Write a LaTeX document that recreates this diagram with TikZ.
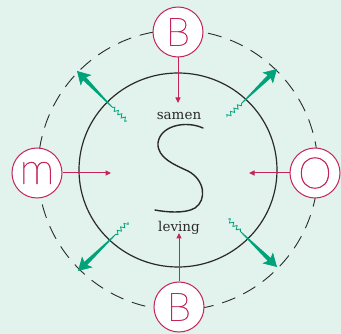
\documentclass[tikz,border=0pt]{standalone}
\usepackage{fontspec}
\newfontfamily\wordfont{DejaVu Serif}
\newfontfamily\letterfont{Lato Thin}[FakeBold=1.2]
\usetikzlibrary{arrows.meta,decorations.pathmorphing,calc}
\definecolor{bg}{HTML}{E2F2EC}
\definecolor{rose}{HTML}{C4245A}
\definecolor{jade}{HTML}{00A27A}
\definecolor{ink}{HTML}{2A2A2A}
\tikzset{
  letterbox/.style={circle, draw=rose, fill=white, line width=1pt, minimum size=50pt,
    inner sep=0pt, text=rose},
  word/.style={anchor=base, text=ink, font=\wordfont\fontsize{13.5}{15}\selectfont},
  inarrow/.style={draw=rose, line width=1pt, -{Triangle[length=5.5pt,width=5pt]}},
  wiggle/.style={draw=jade, line width=0.8pt, decorate,
    decoration={snake, amplitude=1.8pt, segment length=4.8pt}},
  outhead/.style={draw=jade, line width=0.6pt, -{Stealth[length=13pt,width=15pt,inset=3pt]}}
}
\begin{document}
\begin{tikzpicture}[x=1pt,y=-1pt]
\fill[bg] (0,0) rectangle (341,334);
\useasboundingbox (0,0) rectangle (341,334);

\coordinate (ctr) at (178,170);
% outer dashed ring and inner solid ring
\draw[ink, line width=0.9pt, dash pattern=on 14pt off 9pt] (ctr) circle[radius=140];
\draw[ink, line width=1.2pt] (ctr) ellipse[x radius=99, y radius=97];

% the big S
\draw[ink, line width=1.4pt, line cap=round]
  (203,128) .. controls (185,120) and (160,126) .. (158,143)
  .. controls (157,158) and (175,165) .. (188,171)
  .. controls (205,180) and (207,200) .. (195,208)
  .. controls (185,214) and (165,212) .. (155,210);

\node[word] (samen) at (179,120) {samen};
\node[word] (leving) at (179,232) {leving};

% letter circles
\node[letterbox, font=\letterfont\fontsize{39}{39}\selectfont] (btop) at (178,32) {B};
\node[letterbox, font=\letterfont\fontsize{44}{44}\selectfont] (mleft) at (37,173) {m};
\node[letterbox, font=\letterfont\fontsize{43}{43}\selectfont] (oright) at (315,173) {O};
\node[letterbox, font=\letterfont\fontsize{39}{39}\selectfont] (bbot) at (179,307) {B};

% arrows pointing inwards
\coordinate (tipT) at (178,103);
\coordinate (tipL) at (111,173);
\coordinate (tipR) at (249,173);
\coordinate (tipB) at (179,233);
\draw[inarrow] (btop) -- (tipT);
\draw[inarrow] (mleft) -- (tipL);
\draw[inarrow] (oright) -- (tipR);
\draw[inarrow] (bbot) -- (tipB);

% radiating arrows: a wavy tail, a tapering shaft and a broad head
\coordinate (s1) at (127,121); \coordinate (m1) at (111,106); \coordinate (t1) at (77,71);
\coordinate (s2) at (227,117); \coordinate (m2) at (243,102); \coordinate (t2) at (277,69);
\coordinate (s3) at (128,222); \coordinate (m3) at (114,236); \coordinate (t3) at (78,271);
\coordinate (s4) at (228,219); \coordinate (m4) at (242,233); \coordinate (t4) at (277,267);
\foreach \i in {1,2,3,4}{
  \draw[wiggle] (s\i) -- (m\i);
  \coordinate (h\i) at ($(t\i)!10pt!(m\i)$);
  \fill[jade] ($(m\i)!0.5pt!90:(t\i)$) -- ($(h\i)!2.2pt!-90:(m\i)$)
    -- ($(h\i)!2.2pt!90:(m\i)$) -- ($(m\i)!0.5pt!-90:(t\i)$) -- cycle;
  \draw[outhead] (h\i) -- (t\i);
}
\end{tikzpicture}
\end{document}
